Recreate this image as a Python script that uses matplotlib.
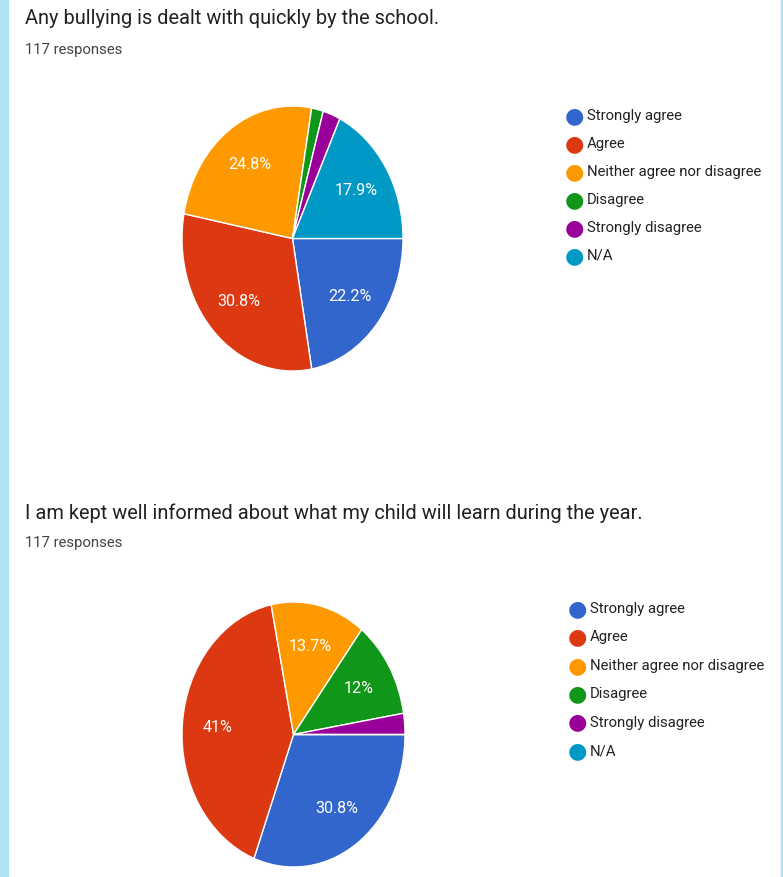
import matplotlib.pyplot as plt
from matplotlib.patches import Rectangle

plt.rcParams['font.family'] = ['Roboto', 'DejaVu Sans']

W, H = 783, 877

categories = ["Strongly agree", "Agree", "Neither agree nor disagree",
              "Disagree", "Strongly disagree", "N/A"]
colors = ["#3366CC", "#DC3912", "#FF9900", "#109618", "#990099", "#0099C6"]

# response counts out of 117
bullying_counts = [26, 36, 29, 2, 3, 21]
informed_counts = [36, 48, 16, 14, 3, 0]

title_bullying = "Any bullying is dealt with quickly by the school."
title_informed = "I am kept well informed about what my child will learn during the year."
responses_text = "117 responses"

fig = plt.figure(figsize=(W / 100, H / 100), dpi=100)
fig.patch.set_facecolor("white")


def px(x, y):
    return x / W, 1 - y / H


def pct_label(p):
    if p < 5:
        return ""
    s = f"{p:.1f}"
    if s.endswith(".0"):
        s = s[:-2]
    return s + "%"


def draw_pie(counts, left, top, width, height):
    ax = fig.add_axes([left / W, 1 - (top + height) / H, width / W, height / H])
    ax.pie(counts, colors=colors, startangle=0, counterclock=False,
           autopct=pct_label, pctdistance=0.68, radius=1,
           wedgeprops=dict(edgecolor="white", linewidth=1.0),
           textprops=dict(color="white", fontsize=11.6))
    ax.set_aspect("auto")
    ax.set_xlim(-1, 1)
    ax.set_ylim(-1, 1)
    ax.axis("off")


def draw_legend(x_dot, x_text, y0, step, size):
    for i, (name, c) in enumerate(zip(categories, colors)):
        y = y0 + i * step
        fig.text(*px(x_dot, y), "\u25CF", color=c, fontsize=16, ha="center",
                 va="center", family="DejaVu Sans")
        fig.text(*px(x_text, y), name, color="#222222", fontsize=size,
                 ha="left", va="center")


# question 1
fig.text(*px(25, 19), title_bullying, fontsize=14.4, color="#202124", va="center")
fig.text(*px(25, 50), responses_text, fontsize=10.7, color="#444444", va="center")
draw_pie(bullying_counts, 182, 106, 221, 265)
draw_legend(574, 587, 116, 28, 10.7)

# question 2
fig.text(*px(25, 513), title_informed, fontsize=14.4, color="#202124", va="center")
fig.text(*px(25, 543), responses_text, fontsize=10.7, color="#444444", va="center")
draw_pie(informed_counts, 182, 602, 223, 265)
draw_legend(577, 590, 609, 28.4, 10.7)

# light blue window edges
fig.patches.append(Rectangle((0, 0), 8 / W, 1, transform=fig.transFigure,
                             color="#AEE3F5", zorder=0))
fig.patches.append(Rectangle((781 / W, 0), 2 / W, 1, transform=fig.transFigure,
                             color="#AEE3F5", zorder=0))

fig.savefig("out.png", dpi=100)
